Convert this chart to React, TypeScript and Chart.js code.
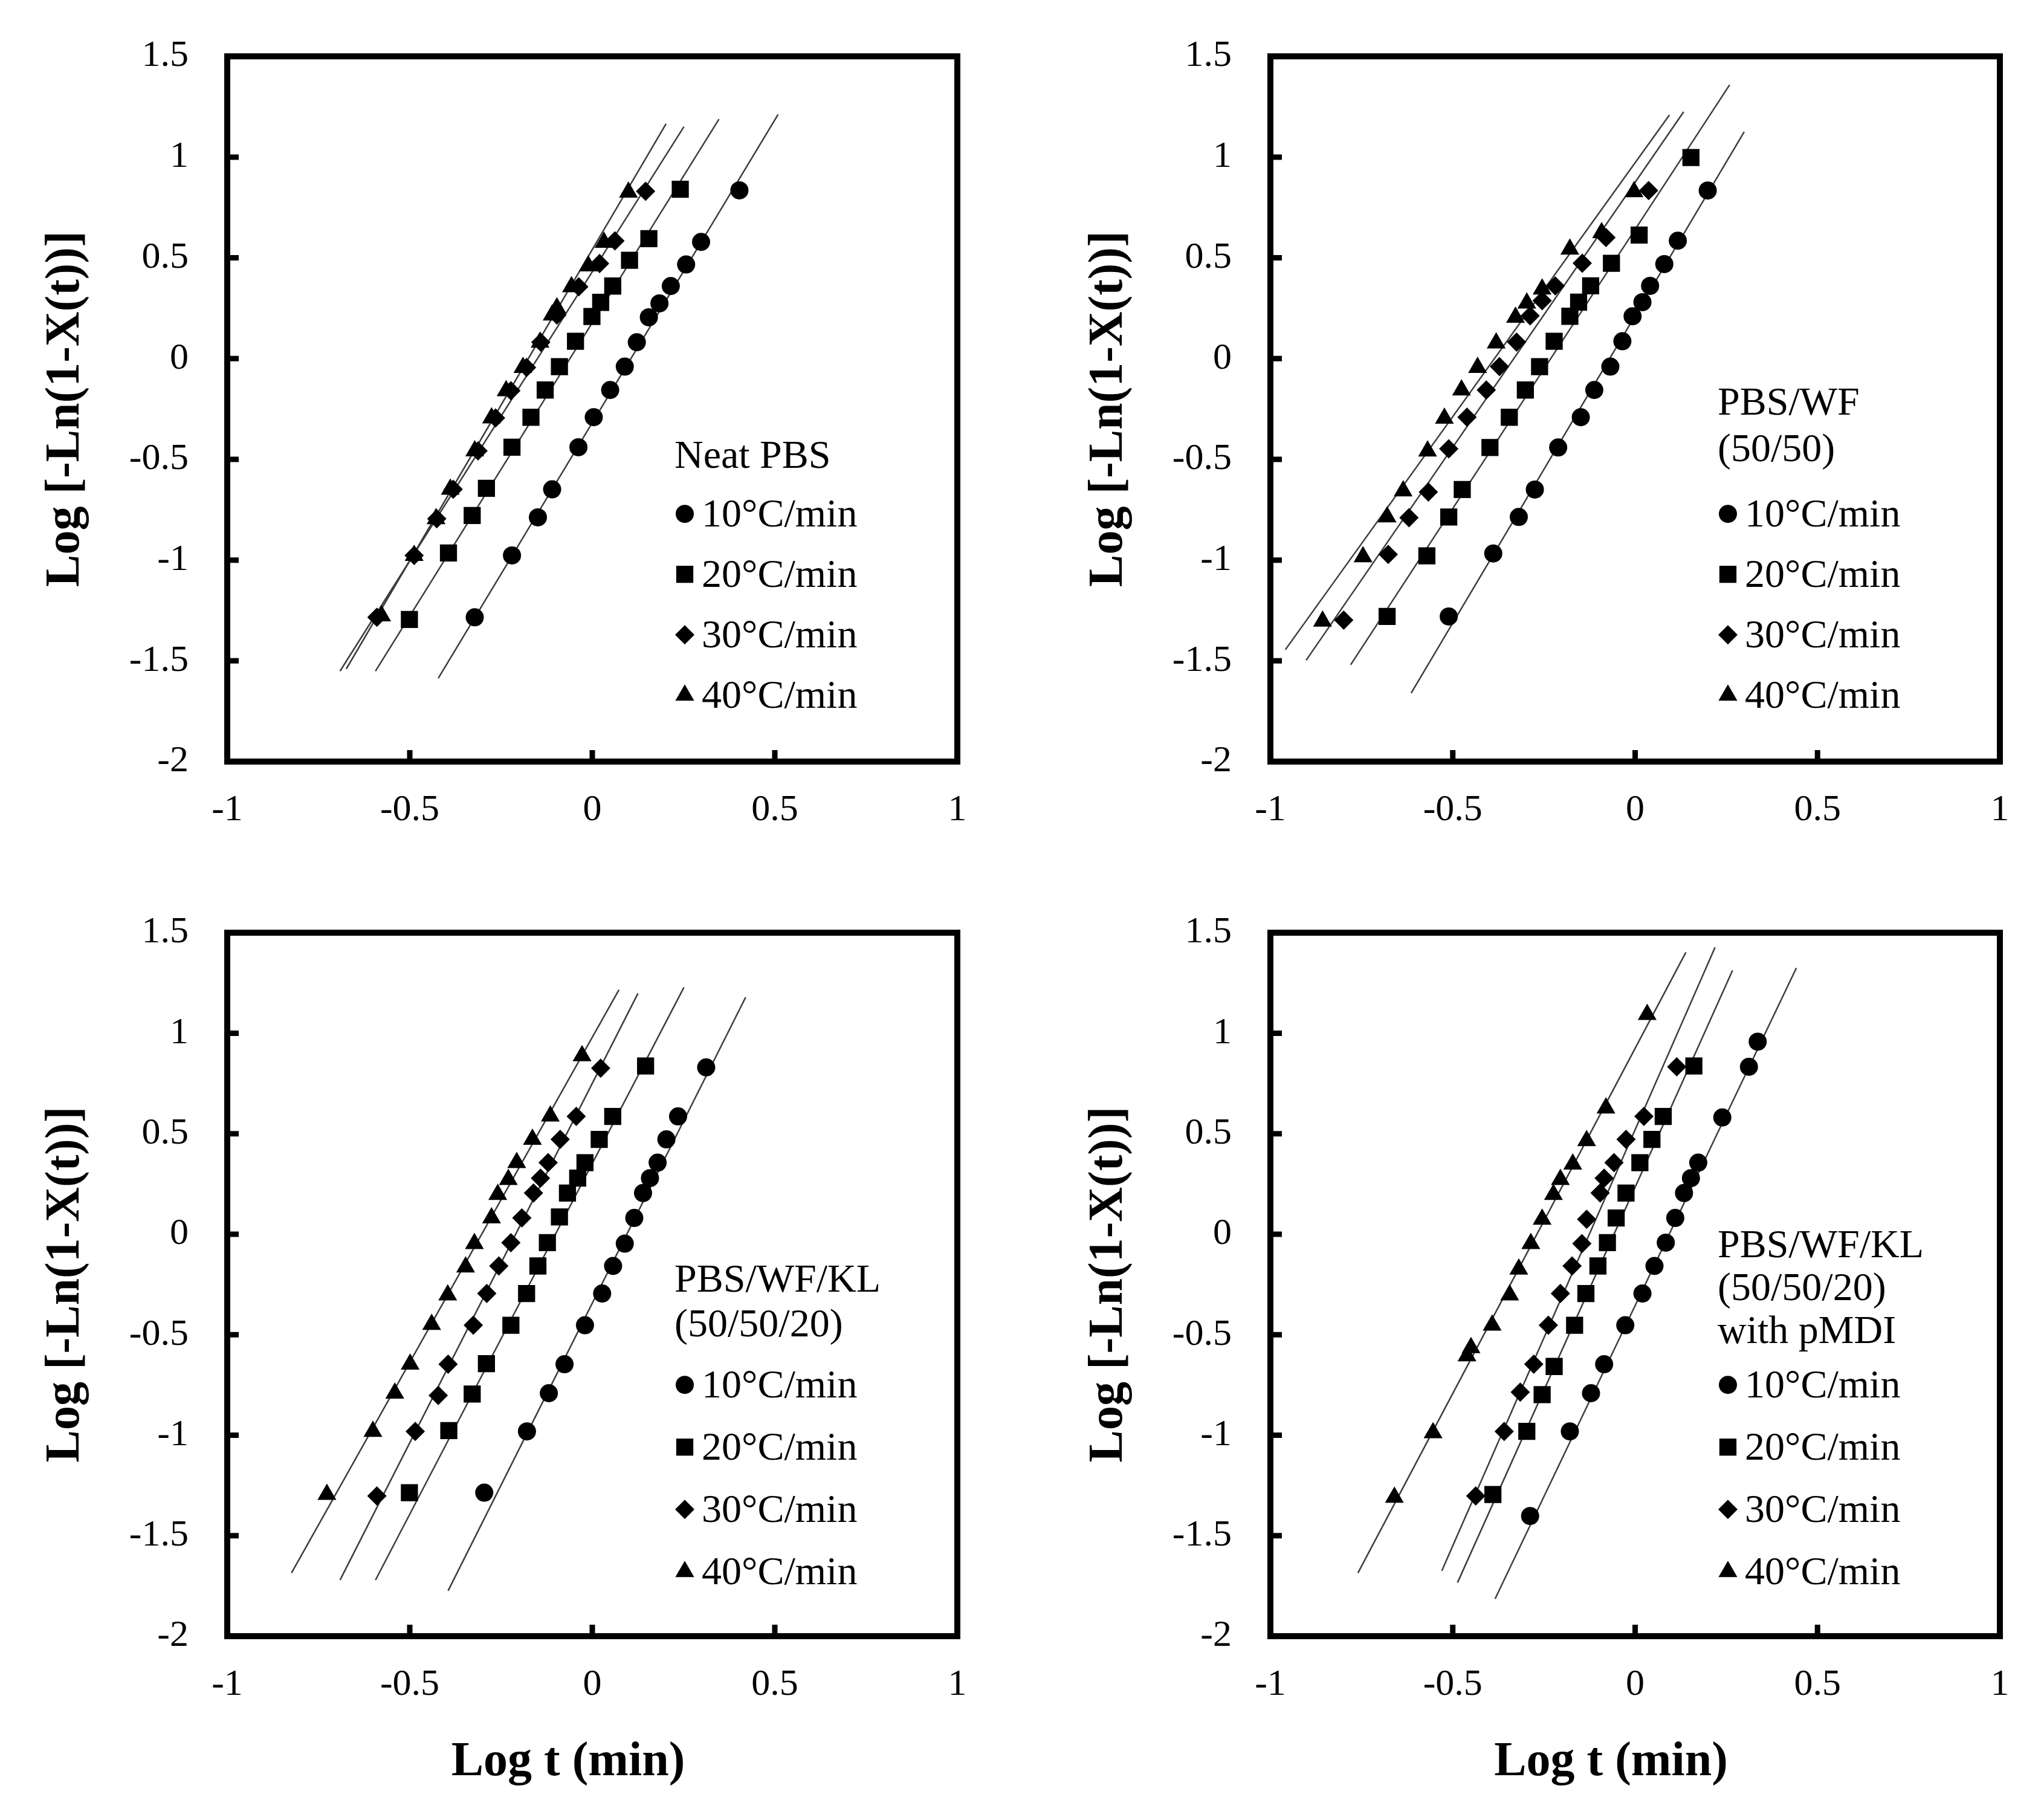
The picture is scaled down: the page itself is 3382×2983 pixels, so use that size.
import { useEffect, useRef } from 'react';
import { Chart, registerables } from 'chart.js';
import { drawPoint } from 'chart.js/helpers';

Chart.register(...registerables);

type Pt = [number, number];

const xTicks = [-1, -0.5, 0, 0.5, 1];
const yTicks = [-2, -1.5, -1, -0.5, 0, 0.5, 1, 1.5];
const rates = ['10°C/min', '20°C/min', '30°C/min', '40°C/min'];
const xTitle = 'Log t (min)';
const yTitle = 'Log [-Ln(1-X(t))]';

// Neat PBS
const neat10: Pt[] = [[-0.322, -1.284], [-0.22, -0.977], [-0.149, -0.788], [-0.11, -0.649], [-0.038, -0.44], [0.004, -0.291], [0.049, -0.156], [0.089, -0.04], [0.122, 0.081], [0.155, 0.205], [0.184, 0.274], [0.215, 0.36], [0.257, 0.467], [0.298, 0.579], [0.403, 0.835]];
const neat20: Pt[] = [[-0.501, -1.295], [-0.394, -0.965], [-0.329, -0.779], [-0.29, -0.644], [-0.22, -0.44], [-0.168, -0.291], [-0.129, -0.156], [-0.09, -0.04], [-0.046, 0.086], [-0.001, 0.209], [0.023, 0.279], [0.056, 0.36], [0.102, 0.488], [0.155, 0.595], [0.241, 0.84]];
const neat30: Pt[] = [[-0.59, -1.284], [-0.488, -0.977], [-0.426, -0.795], [-0.381, -0.649], [-0.313, -0.458], [-0.265, -0.295], [-0.223, -0.16], [-0.18, -0.044], [-0.141, 0.081], [-0.097, 0.216], [-0.037, 0.356], [0.02, 0.472], [0.062, 0.584], [0.146, 0.83]];
const neat40: Pt[] = [[-0.577, -1.277], [-0.488, -0.977], [-0.428, -0.795], [-0.389, -0.649], [-0.322, -0.458], [-0.276, -0.295], [-0.236, -0.16], [-0.19, -0.044], [-0.143, 0.081], [-0.11, 0.216], [-0.097, 0.251], [-0.057, 0.356], [-0.011, 0.46], [0.032, 0.577], [0.099, 0.826]];
const neatN = [3.005, 2.911, 2.868, 3.088];
const neatLogK = [-0.318, 0.178, 0.431, 0.541];
const neatSpan: Pt[] = [[-0.422, 0.509], [-0.594, 0.347], [-0.691, 0.251], [-0.674, 0.202]];

// PBS/WF (50/50)
const wf10: Pt[] = [[-0.511, -1.28], [-0.389, -0.967], [-0.319, -0.786], [-0.275, -0.65], [-0.211, -0.441], [-0.149, -0.291], [-0.112, -0.156], [-0.068, -0.04], [-0.035, 0.086], [-0.007, 0.21], [0.02, 0.28], [0.041, 0.361], [0.08, 0.469], [0.117, 0.585], [0.199, 0.834]];
const wf20: Pt[] = [[-0.68, -1.28], [-0.571, -0.979], [-0.511, -0.786], [-0.474, -0.65], [-0.398, -0.441], [-0.345, -0.291], [-0.301, -0.156], [-0.262, -0.04], [-0.222, 0.086], [-0.179, 0.21], [-0.155, 0.28], [-0.122, 0.361], [-0.065, 0.473], [0.011, 0.613], [0.153, 0.998]];
const wf30: Pt[] = [[-0.799, -1.298], [-0.677, -0.972], [-0.62, -0.79], [-0.567, -0.662], [-0.511, -0.448], [-0.461, -0.291], [-0.408, -0.156], [-0.372, -0.04], [-0.325, 0.082], [-0.288, 0.212], [-0.255, 0.287], [-0.219, 0.361], [-0.145, 0.473], [-0.08, 0.601], [0.037, 0.834]];
const wf40: Pt[] = [[-0.857, -1.303], [-0.746, -0.984], [-0.68, -0.786], [-0.636, -0.657], [-0.569, -0.459], [-0.523, -0.296], [-0.476, -0.156], [-0.432, -0.044], [-0.381, 0.077], [-0.328, 0.205], [-0.297, 0.275], [-0.255, 0.345], [-0.179, 0.543], [-0.092, 0.625], [-0.003, 0.828]];
const wfN = [3.05, 2.77, 2.63, 2.52];
const wfLogK = [0.213, 0.641, 0.875, 0.972];
const wfSpan: Pt[] = [[-0.614, 0.299], [-0.78, 0.259], [-0.902, 0.133], [-0.959, 0.094]];

// PBS/WF/KL (50/50/20)
const kl10: Pt[] = [[-0.296, -1.286], [-0.179, -0.981], [-0.119, -0.791], [-0.076, -0.647], [-0.02, -0.453], [0.027, -0.295], [0.057, -0.158], [0.089, -0.047], [0.115, 0.081], [0.139, 0.205], [0.158, 0.279], [0.179, 0.356], [0.203, 0.472], [0.235, 0.586], [0.312, 0.83]];
const kl20: Pt[] = [[-0.501, -1.286], [-0.393, -0.977], [-0.329, -0.795], [-0.29, -0.644], [-0.223, -0.453], [-0.18, -0.295], [-0.149, -0.158], [-0.123, -0.042], [-0.09, 0.086], [-0.068, 0.205], [-0.04, 0.279], [-0.02, 0.356], [0.019, 0.472], [0.056, 0.586], [0.146, 0.837]];
const kl30: Pt[] = [[-0.59, -1.302], [-0.485, -0.981], [-0.422, -0.802], [-0.395, -0.647], [-0.326, -0.453], [-0.289, -0.295], [-0.256, -0.158], [-0.223, -0.042], [-0.193, 0.081], [-0.161, 0.205], [-0.142, 0.279], [-0.121, 0.356], [-0.088, 0.472], [-0.044, 0.586], [0.023, 0.826]];
const kl40: Pt[] = [[-0.727, -1.295], [-0.601, -0.981], [-0.541, -0.791], [-0.499, -0.647], [-0.44, -0.449], [-0.396, -0.302], [-0.347, -0.163], [-0.323, -0.047], [-0.276, 0.081], [-0.259, 0.198], [-0.23, 0.272], [-0.207, 0.356], [-0.164, 0.472], [-0.115, 0.588], [-0.028, 0.888]];
const klN = [3.623, 3.49, 3.577, 3.235];
const klLogK = [-0.343, 0.352, 0.751, 0.98];
const klSpan: Pt[] = [[-0.395, 0.42], [-0.594, 0.251], [-0.691, 0.125], [-0.824, 0.073]];

// PBS/WF/KL (50/50/20) with pMDI
const md10: Pt[] = [[-0.288, -1.402], [-0.179, -0.981], [-0.121, -0.791], [-0.085, -0.647], [-0.027, -0.453], [0.02, -0.295], [0.053, -0.158], [0.084, -0.042], [0.11, 0.081], [0.134, 0.205], [0.153, 0.279], [0.173, 0.356], [0.239, 0.581], [0.312, 0.833], [0.336, 0.958]];
const md20: Pt[] = [[-0.39, -1.295], [-0.297, -0.981], [-0.255, -0.798], [-0.222, -0.658], [-0.166, -0.453], [-0.135, -0.295], [-0.102, -0.158], [-0.076, -0.042], [-0.052, 0.081], [-0.025, 0.205], [0.013, 0.356], [0.046, 0.472], [0.077, 0.586], [0.161, 0.837]];
const md30: Pt[] = [[-0.437, -1.302], [-0.359, -0.981], [-0.315, -0.786], [-0.278, -0.647], [-0.238, -0.453], [-0.205, -0.295], [-0.173, -0.158], [-0.146, -0.047], [-0.133, 0.074], [-0.096, 0.205], [-0.085, 0.279], [-0.058, 0.356], [-0.025, 0.472], [0.024, 0.586], [0.114, 0.833]];
const md40: Pt[] = [[-0.66, -1.309], [-0.554, -0.988], [-0.461, -0.605], [-0.45, -0.565], [-0.392, -0.453], [-0.344, -0.302], [-0.319, -0.174], [-0.286, -0.047], [-0.255, 0.074], [-0.224, 0.198], [-0.205, 0.272], [-0.171, 0.349], [-0.133, 0.465], [-0.08, 0.628], [0.033, 1.093]];
const mdN = [3.8, 4.04, 4.14, 3.435];
const mdLogK = [-0.355, 0.234, 0.52, 0.925];
const mdSpan: Pt[] = [[-0.384, 0.442], [-0.487, 0.267], [-0.53, 0.219], [-0.76, 0.139]];

const markers = [
  { style: 'circle', r: 15 },
  { style: 'rect', r: 20 },
  { style: 'rectRot', r: 16 },
  { style: 'triangle', r: 18 },
];

const SERIF = '"Liberation Serif", "Times New Roman", serif';

interface PanelCfg {
  x: number; y: number; w: number; h: number;
  area: { l: number; t: number; r: number; b: number };
  series: Pt[][];
  n: number[]; logK: number[]; span: Pt[];
  title: string[];
  titleBase: number[];
  entryBase: number;
  entryGap: number;
  showXTitle: boolean;
}

const panels: PanelCfg[] = [
  {
    x: 0, y: 0, w: 1691, h: 1450, area: { l: 376, t: 85, r: 1584, b: 1260 },
    series: [neat10, neat20, neat30, neat40], n: neatN, logK: neatLogK, span: neatSpan,
    title: ['Neat PBS'], titleBase: [681], entryBase: 778, entryGap: 100, showXTitle: false,
  },
  {
    x: 1691, y: 0, w: 1691, h: 1450, area: { l: 411, t: 85, r: 1618, b: 1260 },
    series: [wf10, wf20, wf30, wf40], n: wfN, logK: wfLogK, span: wfSpan,
    title: ['PBS/WF', '(50/50)'], titleBase: [593, 670], entryBase: 778, entryGap: 100, showXTitle: false,
  },
  {
    x: 0, y: 1450, w: 1691, h: 1533, area: { l: 376, t: 82, r: 1584, b: 1257 },
    series: [kl10, kl20, kl30, kl40], n: klN, logK: klLogK, span: klSpan,
    title: ['PBS/WF/KL', '(50/50/20)'], titleBase: [594, 668], entryBase: 769, entryGap: 103, showXTitle: true,
  },
  {
    x: 1691, y: 1450, w: 1691, h: 1533, area: { l: 411, t: 82, r: 1618, b: 1257 },
    series: [md10, md20, md30, md40], n: mdN, logK: mdLogK, span: mdSpan,
    title: ['PBS/WF/KL', '(50/50/20)', 'with pMDI'], titleBase: [537, 608, 679], entryBase: 769, entryGap: 103, showXTitle: true,
  },
];

function Panel({ cfg }: { cfg: PanelCfg }) {
  const canvasRef = useRef<HTMLCanvasElement>(null);

  useEffect(() => {
    if (!canvasRef.current) return;
    const { area, w, h } = cfg;

    const pointSets = cfg.series.map((pts, i) => ({
      data: pts.map(([x, y]) => ({ x, y })),
      pointStyle: markers[i].style as any,
      pointRadius: markers[i].r,
      pointHoverRadius: markers[i].r,
      backgroundColor: '#000',
      borderWidth: 0,
      showLine: false,
    }));
    // Avrami fit lines: log[-ln(1-X)] = logK + n log t
    const fitSets = cfg.span.map(([a, b], i) => ({
      data: [a, b].map(x => ({ x, y: cfg.logK[i] + cfg.n[i] * x })),
      showLine: true,
      borderColor: '#3c3c3c',
      borderWidth: 2.5,
      pointRadius: 0,
      pointHoverRadius: 0,
    }));

    const decor = {
      id: 'decor',
      afterDraw(chart: Chart) {
        const { ctx, chartArea: a } = chart;
        const sx = chart.scales.x;
        const sy = chart.scales.y;
        ctx.save();
        ctx.strokeStyle = '#000';
        ctx.lineJoin = 'miter';
        ctx.lineWidth = 10;
        ctx.strokeRect(a.left, a.top, a.right - a.left, a.bottom - a.top);

        ctx.lineWidth = 9;
        ctx.beginPath();
        yTicks.slice(1, -1).forEach(v => {
          const py = sy.getPixelForValue(v);
          ctx.moveTo(a.left, py);
          ctx.lineTo(a.left + 19, py);
        });
        xTicks.slice(1, -1).forEach(v => {
          const px = sx.getPixelForValue(v);
          ctx.moveTo(px, a.bottom);
          ctx.lineTo(px, a.bottom - 19);
        });
        ctx.stroke();

        ctx.fillStyle = '#000';
        ctx.font = `bold 80px ${SERIF}`;
        ctx.textAlign = 'center';
        ctx.textBaseline = 'alphabetic';
        ctx.save();
        ctx.translate(a.left - 246, (a.top + a.bottom) / 2);
        ctx.rotate(-Math.PI / 2);
        ctx.fillText(yTitle, 0, 0);
        ctx.restore();
        if (cfg.showXTitle) {
          ctx.fillText(xTitle, (a.left + a.right) / 2 - 40, a.bottom + 230);
        }

        ctx.font = `66px ${SERIF}`;
        ctx.textAlign = 'left';
        cfg.title.forEach((t, i) => ctx.fillText(t, a.left + 740, a.top + cfg.titleBase[i]));
        rates.forEach((label, i) => {
          const base = a.top + cfg.entryBase + i * cfg.entryGap;
          drawPoint(ctx, { pointStyle: markers[i].style as any, radius: markers[i].r, rotation: 0, borderWidth: 0 } as any, a.left + 757, base - 21);
          ctx.fillText(label, a.left + 785, base);
        });
        ctx.restore();
      },
    };

    const tickFont = { family: SERIF, size: 62 };

    const chart = new Chart(canvasRef.current, {
      type: 'scatter',
      data: { datasets: [...pointSets, ...fitSets] as any },
      options: {
        responsive: false,
        animation: false,
        events: [],
        layout: { padding: { left: 0, top: area.t, right: w - area.r, bottom: 0 } },
        plugins: { legend: { display: false }, tooltip: { enabled: false } },
        scales: {
          x: {
            type: 'linear',
            min: -1,
            max: 1,
            grid: { display: false },
            border: { display: false },
            afterBuildTicks: (s: any) => { s.ticks = xTicks.map(value => ({ value })); },
            afterFit: (s: any) => { s.height = h - area.b; },
            ticks: {
              color: '#000', font: tickFont, padding: 36, maxRotation: 0, autoSkip: false,
              callback: (v: any) => String(v),
            },
          },
          y: {
            type: 'linear',
            min: -2,
            max: 1.5,
            grid: { display: false },
            border: { display: false },
            afterBuildTicks: (s: any) => { s.ticks = yTicks.map(value => ({ value })); },
            afterFit: (s: any) => { s.width = area.l; },
            ticks: {
              color: '#000', font: tickFont, padding: 56, autoSkip: false,
              callback: (v: any) => String(v),
            },
          },
        },
      },
      plugins: [decor],
    });

    return () => { chart.destroy(); };
  }, [cfg]);

  return (
    <canvas
      ref={canvasRef}
      width={cfg.w}
      height={cfg.h}
      style={{ position: 'absolute', left: cfg.x, top: cfg.y, width: cfg.w, height: cfg.h }}
    />
  );
}

export default function App() {
  return (
    <div style={{ position: 'absolute', left: 0, top: 0, width: 3382, height: 2983, background: '#fff' }}>
      {panels.map((p, i) => <Panel key={i} cfg={p} />)}
    </div>
  );
}
